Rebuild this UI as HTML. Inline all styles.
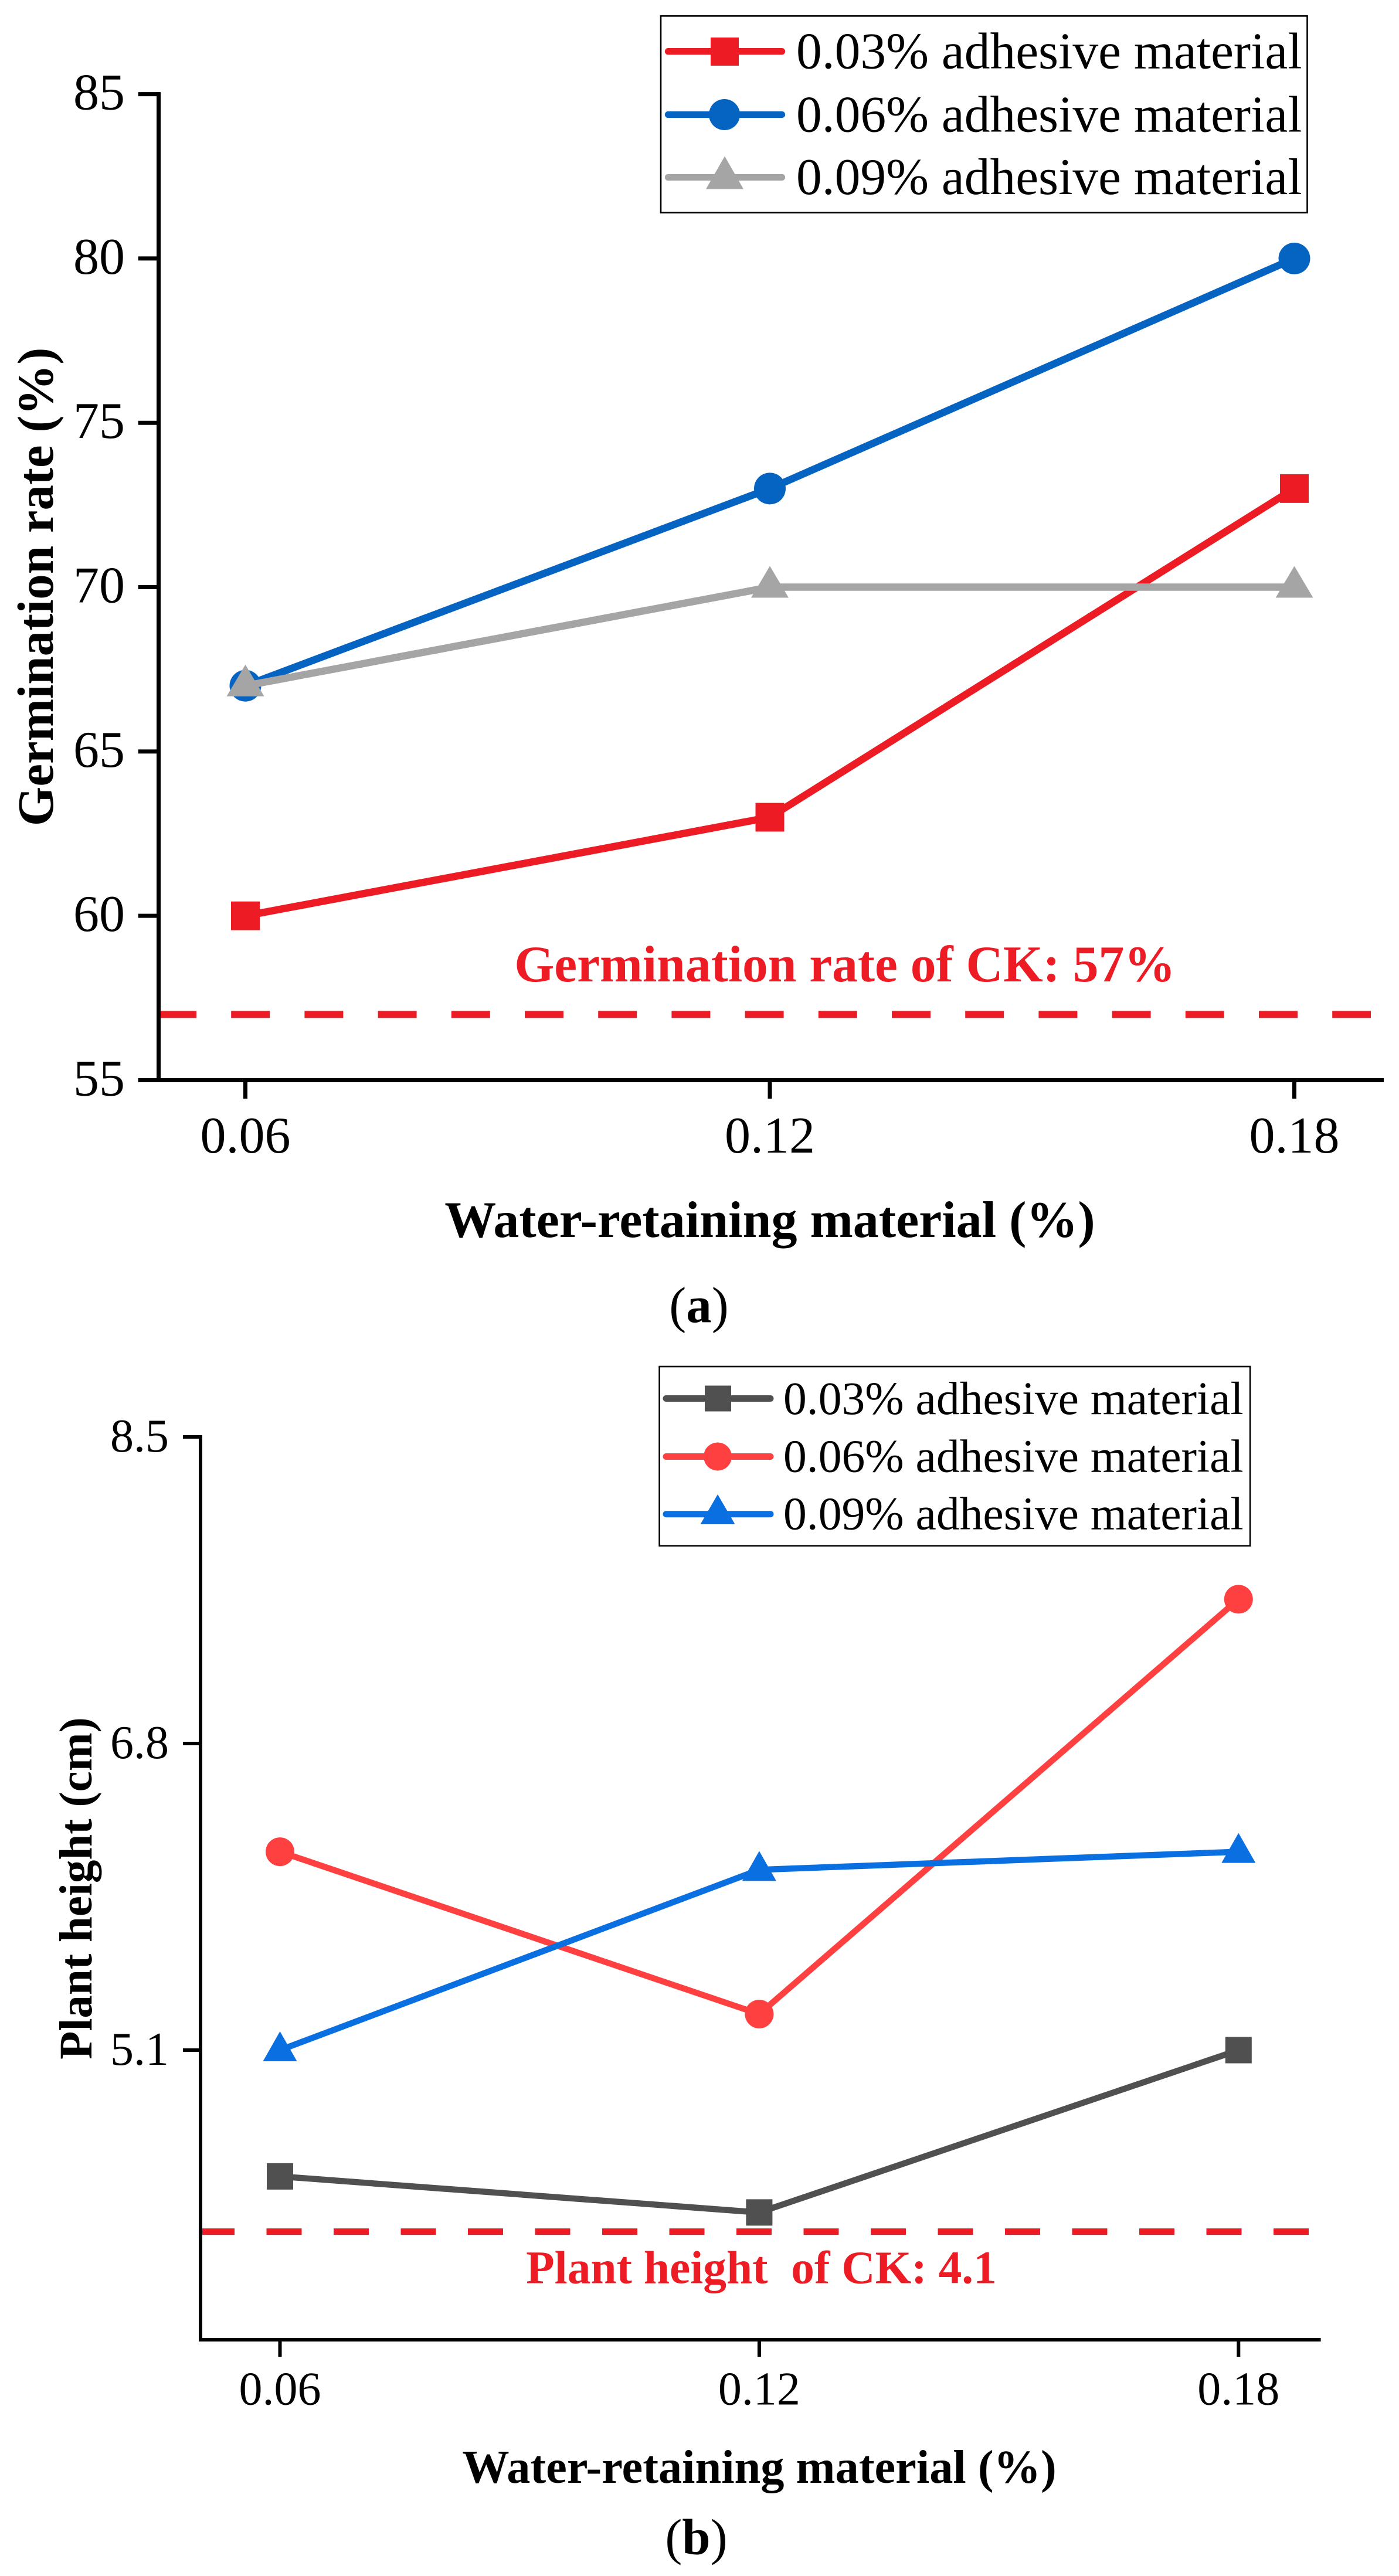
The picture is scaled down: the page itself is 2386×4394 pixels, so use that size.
<!DOCTYPE html>
<html lang="en">
<head>
<meta charset="utf-8">
<title>Germination rate and plant height</title>
<style>
html,body{margin:0;padding:0;background:#fff;}
svg{display:block;}
text{font-family:"Liberation Serif","Times New Roman",serif;fill:#000;white-space:pre;}
.b{font-weight:bold;}
.ck{font-weight:bold;fill:#ED1C24;}
</style>
</head>
<body>
<svg id="fig" xmlns="http://www.w3.org/2000/svg" width="2386" height="4394" viewBox="0 0 2386 4394">
  <rect x="0" y="0" width="2386" height="4394" fill="#fff"/>

  <g id="panel-a">
    <text class="b" font-size="87" text-anchor="middle" transform="translate(90 1001) rotate(-90)">Germination rate (%)</text>
    <text class="b" font-size="88" text-anchor="middle" x="1313" y="2110">Water-retaining material (%)</text>
    <text class="ck" font-size="87.5" text-anchor="middle" x="1441" y="1674">Germination rate of CK: 57%</text>
    <g>
      <rect x="1127" y="27.3" width="1102.5" height="335.5" fill="#fff" stroke="#000" stroke-width="2.6"/>
      <g>
        <line x1="1139.5" y1="87.7" x2="1333.5" y2="87.7" stroke="#ED1C24" stroke-width="11.3" stroke-linecap="round"/>
        <rect x="1212" y="64" width="48" height="48" fill="#ED1C24"/>
        <text font-size="87.5" x="1358" y="116.5">0.03% adhesive material</text>
      </g>
      <g>
        <line x1="1139.5" y1="195.5" x2="1333.5" y2="195.5" stroke="#0563C1" stroke-width="11.3" stroke-linecap="round"/>
        <circle cx="1235.5" cy="195.5" r="26.5" fill="#0563C1"/>
        <text font-size="87.5" x="1358" y="224.5">0.06% adhesive material</text>
      </g>
      <g>
        <line x1="1139.5" y1="302.5" x2="1333.5" y2="302.5" stroke="#A5A5A5" stroke-width="11.3" stroke-linecap="round"/>
        <polygon points="1236,266.5 1268,322.5 1204,322.5" fill="#A5A5A5"/>
        <text font-size="87.5" x="1358" y="331">0.09% adhesive material</text>
      </g>
    </g>
    <text font-size="87" text-anchor="middle" x="1192" y="2255.5">(<tspan class="b">a</tspan>)</text>
  </g>

  <g id="panel-b">
    <text class="b" font-size="79" text-anchor="middle" transform="translate(156 3221) rotate(-90)">Plant height (cm)</text>
    <text class="b" font-size="80.4" text-anchor="middle" x="1295" y="4235">Water-retaining material (%)</text>
    <text class="ck" font-size="79.4" text-anchor="middle" x="1298.5" y="3894.5" xml:space="preserve">Plant height  of CK: 4.1</text>
    <g>
      <rect x="1124.6" y="2331" width="1007.5" height="305.7" fill="#fff" stroke="#000" stroke-width="2.6"/>
      <g>
        <line x1="1136" y1="2385.5" x2="1314" y2="2385.5" stroke="#505050" stroke-width="11" stroke-linecap="round"/>
        <rect x="1202" y="2363.5" width="45" height="44" fill="#505050"/>
        <text font-size="79.6" x="1336" y="2412">0.03% adhesive material</text>
      </g>
      <g>
        <line x1="1136" y1="2484.5" x2="1314" y2="2484.5" stroke="#FF4040" stroke-width="11" stroke-linecap="round"/>
        <circle cx="1224" cy="2484.5" r="24" fill="#FF4040"/>
        <text font-size="79.6" x="1336" y="2510.5">0.06% adhesive material</text>
      </g>
      <g>
        <line x1="1136" y1="2582.7" x2="1314" y2="2582.7" stroke="#0A6FE0" stroke-width="11" stroke-linecap="round"/>
        <polygon points="1224,2549 1253.5,2600 1194.5,2600" fill="#0A6FE0"/>
        <text font-size="79.6" x="1336" y="2608.7">0.09% adhesive material</text>
      </g>
    </g>
    <text font-size="87" text-anchor="middle" x="1187.5" y="4357">(<tspan class="b">b</tspan>)</text>
  </g>
</svg>

<script>
// Panel (a) data: germination rate
const germCategories = [0.06, 0.12, 0.18];
const germCategoryLabels = ['0.06', '0.12', '0.18'];
const germYTicks = [55, 60, 65, 70, 75, 80, 85];
const germYTickLabels = ['55', '60', '65', '70', '75', '80', '85'];
const germAdhesive003 = [60, 63, 73];
const germAdhesive006 = [67, 73, 80];
const germAdhesive009 = [67, 70, 70];
const germCK = [57];

// Panel (b) data: plant height
const heightCategories = [0.06, 0.12, 0.18];
const heightCategoryLabels = ['0.06', '0.12', '0.18'];
const heightYTicks = [5.1, 6.8, 8.5];
const heightYTickLabels = ['5.1', '6.8', '8.5'];
const heightAdhesive003 = [4.4, 4.2, 5.1];
const heightAdhesive006 = [6.2, 5.3, 7.6];
const heightAdhesive009 = [5.1, 6.1, 6.2];
const heightCK = [4.1];

const SVG_NS = 'http://www.w3.org/2000/svg';

function make(tag, parent) {
  const node = document.createElementNS(SVG_NS, tag);
  parent.appendChild(node);
  return node;
}

function drawChart(opts) {
  const root = document.getElementById(opts.rootId);
  const plot = document.createElementNS(SVG_NS, 'g');
  
  
  root.insertBefore(plot, root.firstChild);

  const xScale = function (c) {
    return opts.xPx0 + (c - opts.xRef0) / (opts.xRef1 - opts.xRef0) * (opts.xPx1 - opts.xPx0);
  };
  const yScale = function (v) {
    return opts.yPx0 + (v - opts.yRef0) / (opts.yRef1 - opts.yRef0) * (opts.yPx1 - opts.yPx0);
  };
  const topY = yScale(opts.yTicks[opts.yTicks.length - 1]);

  // Reference (CK) dashed line
  const ck = make('line', plot);
  
  
  ck.setAttribute('x1', opts.dashStart);
  ck.setAttribute('x2', opts.dashEnd);
  ck.setAttribute('y1', yScale(opts.ck) + opts.dashNudge);
  ck.setAttribute('y2', yScale(opts.ck) + opts.dashNudge);
  ck.setAttribute('stroke', '#ED1C24');
  ck.setAttribute('stroke-width', opts.dashW);
  ck.setAttribute('stroke-dasharray', opts.dash);

  // Axes
  const yAxis = make('line', plot);
  
  
  yAxis.setAttribute('x1', opts.axisX);
  yAxis.setAttribute('x2', opts.axisX);
  yAxis.setAttribute('y1', topY - opts.tickW / 2);
  yAxis.setAttribute('y2', opts.axisY + opts.axisW / 2);
  yAxis.setAttribute('stroke', '#000');
  yAxis.setAttribute('stroke-width', opts.axisW);

  const xAxis = make('line', plot);
  
  
  xAxis.setAttribute('x1', opts.xAxisLeft);
  xAxis.setAttribute('x2', opts.xAxisRight);
  xAxis.setAttribute('y1', opts.axisY);
  xAxis.setAttribute('y2', opts.axisY);
  xAxis.setAttribute('stroke', '#000');
  xAxis.setAttribute('stroke-width', opts.axisW);

  // Y ticks
  opts.yTicks.forEach(function (v, i) {
    const tick = make('line', plot);
    
    
    tick.setAttribute('x1', opts.yTickLeft);
    tick.setAttribute('x2', opts.axisX);
    tick.setAttribute('y1', yScale(v));
    tick.setAttribute('y2', yScale(v));
    tick.setAttribute('stroke', '#000');
    tick.setAttribute('stroke-width', opts.tickW);

    const label = make('text', plot);
    
    
    label.setAttribute('x', opts.yLabelX);
    label.setAttribute('y', yScale(v) + opts.yLabelDy);
    label.setAttribute('text-anchor', 'end');
    label.setAttribute('font-size', opts.fontSize);
    label.textContent = opts.yTickLabels[i];
  });

  // X ticks
  opts.categories.forEach(function (c, i) {
    const tick = make('line', plot);
    
    
    tick.setAttribute('x1', xScale(c));
    tick.setAttribute('x2', xScale(c));
    tick.setAttribute('y1', opts.axisY);
    tick.setAttribute('y2', opts.xTickBottom);
    tick.setAttribute('stroke', '#000');
    tick.setAttribute('stroke-width', opts.tickW);

    const label = make('text', plot);
    
    
    label.setAttribute('x', xScale(c));
    label.setAttribute('y', opts.xLabelY);
    label.setAttribute('text-anchor', 'middle');
    label.setAttribute('font-size', opts.fontSize);
    label.textContent = opts.categoryLabels[i];
  });

  // Series
  opts.series.forEach(function (s) {
    const pts = s.values.map(function (v, i) {
      return [xScale(opts.categories[i]), yScale(v)];
    });
    const line = make('polyline', plot);
    
    
    line.setAttribute('points', pts.map(function (p) { return p.join(','); }).join(' '));
    line.setAttribute('fill', 'none');
    line.setAttribute('stroke', s.color);
    line.setAttribute('stroke-width', opts.lineW);
    line.setAttribute('stroke-linejoin', 'round');

    pts.forEach(function (p) {
      let mark;
      if (s.marker === 'square') {
        mark = make('rect', plot);
        mark.setAttribute('x', p[0] - opts.squareSize / 2);
        mark.setAttribute('y', p[1] - opts.squareSize / 2);
        mark.setAttribute('width', opts.squareSize);
        mark.setAttribute('height', opts.squareSize);
      } else if (s.marker === 'circle') {
        mark = make('circle', plot);
        mark.setAttribute('cx', p[0]);
        mark.setAttribute('cy', p[1]);
        mark.setAttribute('r', opts.circleR);
      } else {
        mark = make('polygon', plot);
        mark.setAttribute('points',
          p[0] + ',' + (p[1] - opts.triUp) + ' ' +
          (p[0] + opts.triHalf) + ',' + (p[1] + opts.triDown) + ' ' +
          (p[0] - opts.triHalf) + ',' + (p[1] + opts.triDown));
      }
      
      
      mark.setAttribute('fill', s.color);
    });
  });
}

drawChart({
  rootId: 'panel-a',
  categories: germCategories,
  categoryLabels: germCategoryLabels,
  yTicks: germYTicks,
  yTickLabels: germYTickLabels,
  ck: germCK[0],
  series: [
    { name: 'germination-003', values: germAdhesive003, color: '#ED1C24', marker: 'square' },
    { name: 'germination-006', values: germAdhesive006, color: '#0563C1', marker: 'circle' },
    { name: 'germination-009', values: germAdhesive009, color: '#A5A5A5', marker: 'triangle' }
  ],
  xRef0: 0.06, xRef1: 0.18, xPx0: 418.5, xPx1: 2207.5,
  yRef0: 55, yRef1: 85, yPx0: 1842.5, yPx1: 160.6,
  axisX: 270.5, axisY: 1842.5, axisW: 7, tickW: 7,
  xAxisLeft: 235.7, xAxisRight: 2360, yTickLeft: 235.7, xTickBottom: 1874,
  yLabelX: 213, yLabelDy: 26, xLabelY: 1966, fontSize: 88,
  dashStart: 269, dashEnd: 2338, dash: '66 59.2', dashW: 12, dashNudge: 0,
  lineW: 12.5, squareSize: 49, circleR: 27, triHalf: 32, triUp: 36, triDown: 18
});

drawChart({
  rootId: 'panel-b',
  categories: heightCategories,
  categoryLabels: heightCategoryLabels,
  yTicks: heightYTicks,
  yTickLabels: heightYTickLabels,
  ck: heightCK[0],
  series: [
    { name: 'height-003', values: heightAdhesive003, color: '#505050', marker: 'square' },
    { name: 'height-006', values: heightAdhesive006, color: '#FF4040', marker: 'circle' },
    { name: 'height-009', values: heightAdhesive009, color: '#0A6FE0', marker: 'triangle' }
  ],
  xRef0: 0.06, xRef1: 0.18, xPx0: 477.5, xPx1: 2112.3,
  yRef0: 5.1, yRef1: 8.5, yPx0: 3497, yPx1: 2451,
  axisX: 342, axisY: 3991, axisW: 6, tickW: 6,
  xAxisLeft: 339, xAxisRight: 2252.6, yTickLeft: 312, xTickBottom: 4020,
  yLabelX: 288, yLabelDy: 25, xLabelY: 4101.7, fontSize: 80,
  dashStart: 340, dashEnd: 2232, dash: '60 54.5', dashW: 11, dashNudge: 2,
  lineW: 10.5, squareSize: 45, circleR: 24.5, triHalf: 29, triUp: 32, triDown: 19
});
</script>
</body>
</html>
